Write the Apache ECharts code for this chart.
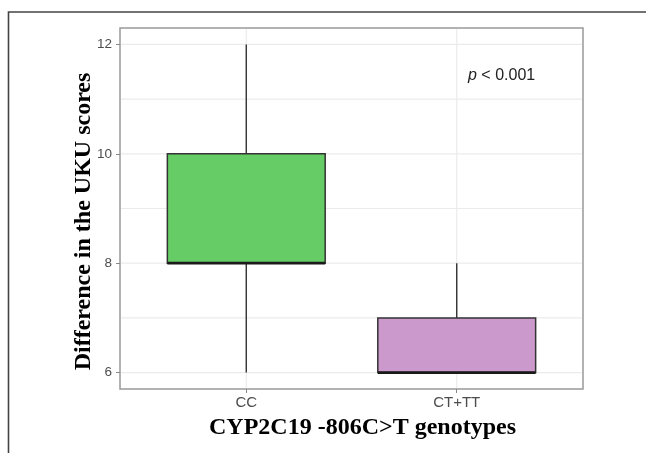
<!DOCTYPE html>
<html>
<head>
<meta charset="utf-8">
<script src="https://cdn.jsdelivr.net/npm/echarts@6/dist/echarts.min.js"></script>
<style>
  html, body { margin: 0; padding: 0; background: #fff; }
  #main { width: 646px; height: 453px; }
</style>
</head>
<body>
<div id="main"></div>
<script>
// data
var categories = ['CC', 'CT+TT']
var mins = [6, 6]
var q1s = [8, 6]
var medians = [8, 6]
var q3s = [10, 7]
var maxs = [12, 8]
var yTicks = [6, 8, 10, 12]
var yMinor = [7, 9, 11]

// axis limits (ggplot style expansion)
var xMin = 0.4, xMax = 2.6
var yMin = 5.7, yMax = 12.3
var fills = ['#66cc66', '#cc99cc']

var boxData = categories.map(function (c, i) {
    return [i + 1, mins[i], q1s[i], medians[i], q3s[i], maxs[i]]
})
// [0 = horizontal / 1 = vertical, value]
var gridData = yTicks.concat(yMinor).map(function (v) { return [0, v] })
    .concat(categories.map(function (c, i) { return [1, i + 1] }))

var chart = echarts.init(document.getElementById('main'))

var option = {
    backgroundColor: '#fff',
    animation: false,
    grid: {
        left: 120, right: 63, top: 28, bottom: 64,
        show: true, borderColor: '#999', borderWidth: 1.5, backgroundColor: '#fff'
    },
    xAxis: {
        type: 'value', min: xMin, max: xMax,
        axisLine: { show: false },
        splitLine: { show: false },
        axisTick: { customValues: [1, 2], length: 4, lineStyle: { color: '#888' } },
        axisLabel: {
            customValues: [1, 2],
            formatter: function (v) { return categories[Math.round(v) - 1] },
            color: '#4d4d4d', fontSize: 15, fontFamily: 'Liberation Sans', margin: 6
        },
        name: 'CYP2C19 -806C>T genotypes',
        nameLocation: 'middle',
        nameGap: 27,
        nameTextStyle: {
            fontFamily: 'Liberation Serif', fontWeight: 'bold', fontSize: 24, color: '#000',
            padding: [0, 0, 0, 22]
        }
    },
    yAxis: {
        type: 'value', min: yMin, max: yMax,
        axisLine: { show: false },
        splitLine: { show: false },
        axisTick: { customValues: yTicks, length: 4, lineStyle: { color: '#888' } },
        axisLabel: {
            customValues: yTicks,
            color: '#4d4d4d', fontSize: 13.5, fontFamily: 'Liberation Sans', margin: 8
        },
        name: 'Difference in the UKU scores',
        nameLocation: 'middle',
        nameRotate: 90,
        nameGap: 24,
        nameMoveOverlap: false,
        nameTextStyle: {
            fontFamily: 'Liberation Serif', fontWeight: 'bold', fontSize: 24, color: '#000',
            padding: [0, 26, 0, 0]
        }
    },
    series: [
        {
            // panel grid lines
            type: 'custom',
            z: 1,
            silent: true,
            data: gridData,
            renderItem: function (params, api) {
                var kind = api.value(0)
                var v = api.value(1)
                var a, b
                if (kind === 0) {
                    a = api.coord([xMin, v]); b = api.coord([xMax, v])
                    a[0] += 1; b[0] -= 1
                } else {
                    a = api.coord([v, yMin]); b = api.coord([v, yMax])
                    a[1] -= 1; b[1] += 1
                }
                return {
                    type: 'line',
                    shape: { x1: a[0], y1: a[1], x2: b[0], y2: b[1] },
                    style: { stroke: '#ebebeb', lineWidth: 1.2 }
                }
            }
        },
        {
            type: 'custom',
            z: 3,
            data: boxData,
            renderItem: function (params, api) {
                var x = api.value(0)
                var pMin = api.coord([x, api.value(1)])
                var pQ1 = api.coord([x, api.value(2)])
                var pMed = api.coord([x, api.value(3)])
                var pQ3 = api.coord([x, api.value(4)])
                var pMax = api.coord([x, api.value(5)])
                var halfW = api.size([0.75, 0])[0] / 2
                var lineSt = { stroke: '#333', lineWidth: 1.4 }
                return {
                    type: 'group',
                    children: [
                        { type: 'line', shape: { x1: pMin[0], y1: pMin[1], x2: pQ1[0], y2: pQ1[1] }, style: lineSt },
                        { type: 'line', shape: { x1: pQ3[0], y1: pQ3[1], x2: pMax[0], y2: pMax[1] }, style: lineSt },
                        {
                            type: 'rect',
                            shape: { x: pQ3[0] - halfW, y: pQ3[1], width: halfW * 2, height: pQ1[1] - pQ3[1] },
                            style: { fill: fills[params.dataIndex], stroke: '#333', lineWidth: 1.5 }
                        },
                        {
                            type: 'line',
                            shape: { x1: pMed[0] - halfW, y1: pMed[1], x2: pMed[0] + halfW, y2: pMed[1] },
                            style: { stroke: '#1a1a1a', lineWidth: 2.8 }
                        }
                    ]
                }
            }
        }
    ],
    graphic: [
        {
            type: 'rect',
            shape: { x: 8.5, y: 12, width: 720, height: 520 },
            style: { fill: 'none', stroke: '#444', lineWidth: 1.6 },
            silent: true
        },
        {
            type: 'text',
            x: 468, y: 76,
            style: {
                text: '{i|p}{n| < 0.001}',
                verticalAlign: 'middle',
                rich: {
                    i: { fontStyle: 'italic', fontSize: 16, fontFamily: 'Liberation Sans', fill: '#222' },
                    n: { fontSize: 16, fontFamily: 'Liberation Sans', fill: '#222' }
                }
            }
        }
    ]
}

chart.setOption(option)
</script>
</body>
</html>
